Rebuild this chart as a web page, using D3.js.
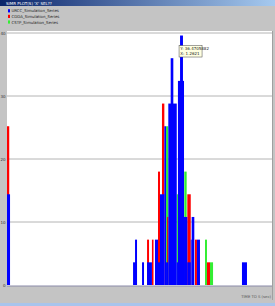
<!DOCTYPE html>
<html>
<head>
<meta charset="utf-8">
<script src="https://cdn.jsdelivr.net/npm/d3@7"></script>
<style>
  html, body { margin: 0; padding: 0; background: #c4c4c4; }
  svg { display: block; font-family: "DejaVu Sans", sans-serif; }
</style>
</head>
<body>
<svg id="chart" width="275" height="306"></svg>
<script>
// series names shown in the legend
const seriesNames = ["URCC_Simulation_Series", "CDDA_Simulation_Series", "CSTP_Simulation_Series"];
const seriesColors = ["#0000ff", "#ff0000", "#33ee33"];

// bars as [x0, x1, value] (x in seconds)
const blueBars = [
  [0, 0.023, 14.4],
  [0.955, 0.985, 3.6], [0.970, 0.985, 7.2],
  [1.023, 1.038, 3.6],
  [1.061, 1.098, 3.6],
  [1.121, 1.144, 7.2],
  [1.144, 1.159, 3.6],
  [1.159, 1.192, 14.4],
  [1.192, 1.205, 25.2],
  [1.205, 1.222, 3.6],
  [1.222, 1.286, 28.8],
  [1.240, 1.260, 36],
  [1.286, 1.295, 3.6],
  [1.295, 1.341, 32.4],
  [1.311, 1.333, 39.6],
  [1.341, 1.366, 10.8],
  [1.366, 1.392, 3.6],
  [1.392, 1.399, 7.2],
  [1.399, 1.419, 10.8],
  [1.439, 1.462, 7.2],
  [1.780, 1.818, 3.6]
];
const redBars = [
  [0, 0.017, 25.2],
  [1.061, 1.076, 7.2],
  [1.098, 1.110, 7.2],
  [1.144, 1.159, 18],
  [1.174, 1.192, 28.8],
  [1.213, 1.222, 10.8],
  [1.366, 1.392, 14.4],
  [1.424, 1.439, 7.2],
  [1.515, 1.538, 3.6]
];
const greenBars = [
  [1.205, 1.222, 25.2],
  [1.286, 1.295, 14.4],
  [1.343, 1.361, 18],
  [1.500, 1.515, 7.2],
  [1.538, 1.561, 3.6]
];
const yTicks = [0, 10, 20, 30, 40];
const tipLines = ["Y: 36.4705882", "X: 1.2621"];

const svg = d3.select("#chart");
const W = 275, H = 306;
const plot = { left: 7, right: 272, top: 31, bottom: 286 };

const x = d3.scaleLinear().domain([0, 2]).range([plot.left, plot.left + 264]);
const y = d3.scaleLinear().domain([0, 40]).range([285, 33]);

// title bar
const grad = svg.append("defs").append("linearGradient").attr("id", "tb");
grad.append("stop").attr("offset", "0%").attr("stop-color", "#0a246a");
grad.append("stop").attr("offset", "100%").attr("stop-color", "#a6caf0");
svg.append("rect").attr("width", W).attr("height", 6).attr("fill", "url(#tb)");
svg.append("text").attr("x", 6).attr("y", 4.5)
  .attr("font-size", 4).attr("fill", "#fff")
  .text("SIMR PLOT(S) 'X' SEL??");

// legend
const leg = svg.append("g").attr("transform", "translate(8, 11)");
seriesNames.forEach((name, i) => {
  leg.append("rect").attr("x", 0).attr("y", i * 5.6 - 1.8)
    .attr("width", 2).attr("height", 3.2).attr("fill", seriesColors[i]);
  leg.append("text").attr("x", 3.5).attr("y", i * 5.6 + 1.3)
    .attr("font-size", 3.9).attr("fill", "#222").text(name);
});

// plot area
svg.append("rect")
  .attr("x", plot.left).attr("y", plot.top)
  .attr("width", plot.right - plot.left).attr("height", plot.bottom - plot.top)
  .attr("fill", "#fff");

// grid lines
svg.append("g").selectAll("line")
  .data(yTicks.filter((d) => d > 0))
  .join("line")
  .attr("x1", plot.left).attr("x2", plot.right)
  .attr("y1", (d) => y(d)).attr("y2", (d) => y(d))
  .attr("stroke", "#b4b4b4").attr("stroke-width", 1);

// y tick labels
svg.append("g").selectAll("text")
  .data(yTicks)
  .join("text")
  .attr("x", 5.5).attr("y", (d) => y(d) + 1.5)
  .attr("text-anchor", "end")
  .attr("font-size", 4).attr("fill", "#333")
  .text((d) => d);

// bars: green, red, then blue on top
function drawBars(data, color) {
  svg.append("g").selectAll("rect")
    .data(data)
    .join("rect")
    .attr("x", (d) => x(d[0]))
    .attr("width", (d) => x(d[1]) - x(d[0]))
    .attr("y", (d) => y(d[2]))
    .attr("height", (d) => y(0) - y(d[2]))
    .attr("fill", color);
}
drawBars(greenBars, seriesColors[2]);
drawBars(redBars, seriesColors[1]);
drawBars(blueBars, seriesColors[0]);

// bottom axis line
svg.append("line")
  .attr("x1", plot.left).attr("x2", plot.right)
  .attr("y1", plot.bottom).attr("y2", plot.bottom)
  .attr("stroke", "#8a8aa8").attr("stroke-width", 1);
svg.append("line")
  .attr("x1", plot.right + 0.5).attr("x2", plot.right + 0.5)
  .attr("y1", plot.top).attr("y2", plot.bottom + 14)
  .attr("stroke", "#888").attr("stroke-width", 0.6);

// x axis label
svg.append("text").attr("x", 271).attr("y", 298)
  .attr("text-anchor", "end").attr("font-size", 3.8).attr("fill", "#555")
  .text("TIME TO S (sec)");

// bottom strip
svg.append("rect").attr("x", 0).attr("y", 303).attr("width", W).attr("height", 3)
  .attr("fill", "#a8c4ec");

// tooltip near the tallest bar
const peak = blueBars.reduce((a, b) => (b[2] > a[2] ? b : a));
const tip = svg.append("g")
  .attr("transform", `translate(${x(peak[0]) - 1}, ${y(peak[2]) + 10})`);
tip.append("rect").attr("width", 23).attr("height", 11.5)
  .attr("fill", "#ffffe1").attr("stroke", "#444").attr("stroke-width", 0.5);
tip.selectAll("text").data(tipLines).join("text")
  .attr("x", 1.2).attr("y", (d, i) => 4.6 + i * 4.8)
  .attr("font-size", 4).attr("fill", "#222").text((d) => d);
</script>
</body>
</html>
